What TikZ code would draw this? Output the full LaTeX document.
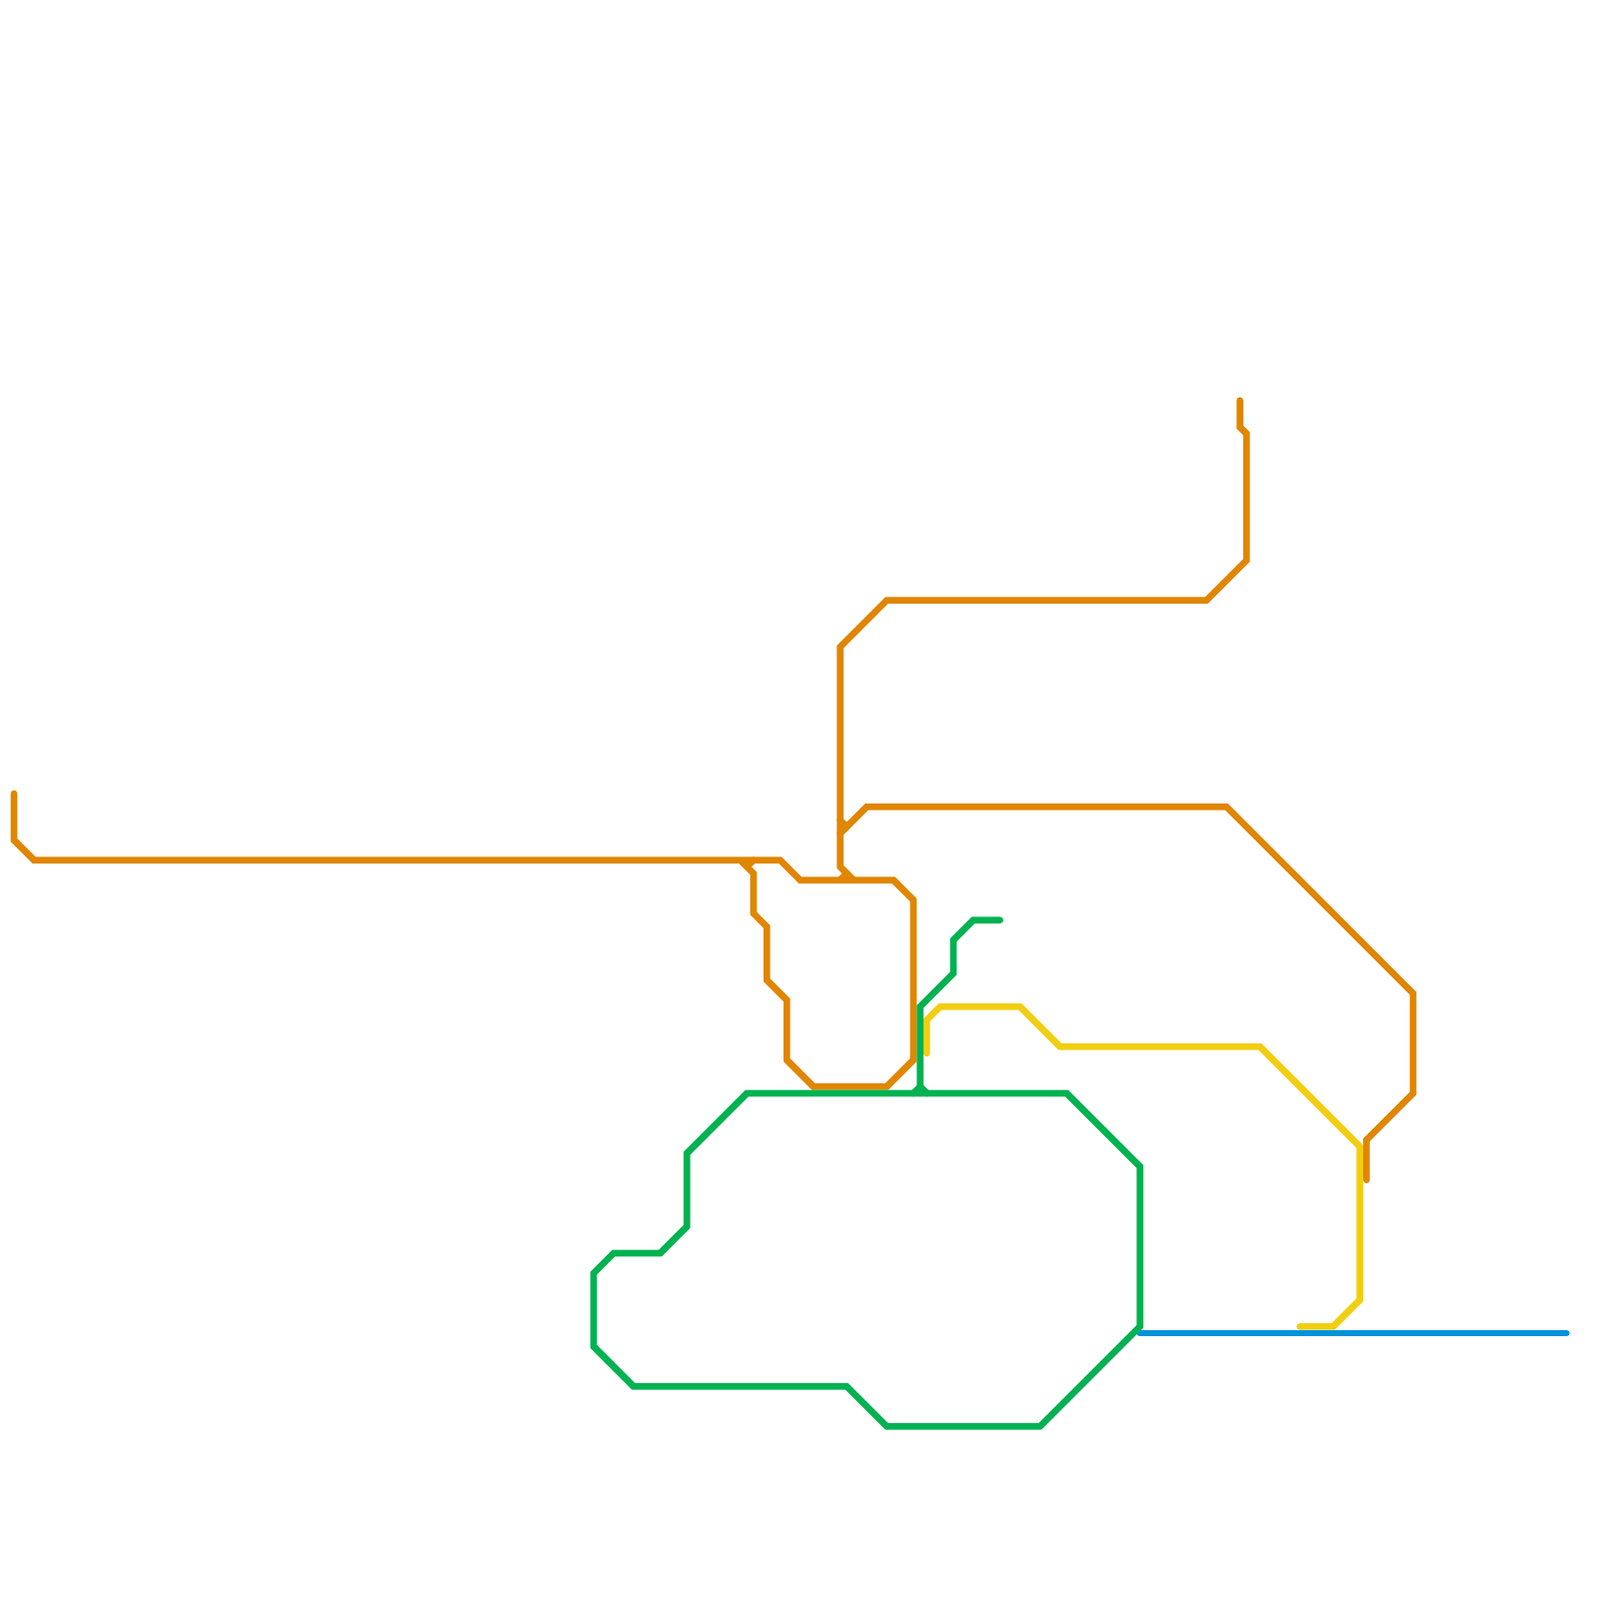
\documentclass[tikz,border=0pt]{standalone}
\usepackage{xcolor}
\definecolor{lorange}{HTML}{E08600}
\definecolor{lgreen}{HTML}{00B251}
\definecolor{lyellow}{HTML}{F2CE12}
\definecolor{lblue}{HTML}{0093D9}
\begin{document}
\begin{tikzpicture}[x=1mm, y=-1mm,
          metro/.style={line width=1mm, line cap=round, line join=miter, miter limit=10},
          orangeline/.style={metro, draw=lorange},
          greenline/.style={metro, draw=lgreen},
          yellowline/.style={metro, draw=lyellow},
          blueline/.style={metro, draw=lblue}]
        \useasboundingbox (-0.1,-0.1) rectangle (239.9,239.9);
        % yellow
        \draw[yellowline] (139,158) -- (139,153) -- (141,151) -- (153,151) -- (159,157) -- (189,157)
          -- (204,172) -- (204,195) -- (200,199) -- (195,199);
        % orange
        \draw[orangeline] (2,119) -- (2,126) -- (5,129) -- (117,129) -- (120,132) -- (134,132) -- (137,135)
          -- (137,159) -- (133,163) -- (122,163) -- (118,159) -- (118,150) -- (115,147) -- (115,139)
          -- (113,137) -- (113,131) -- (111,129);
        \draw[orangeline] (113,129) -- (112,130);
        \draw[orangeline] (186,60) -- (186,64) -- (187,65) -- (187,84) -- (181,90) -- (133,90) -- (126,97)
          -- (126,130) -- (128,132);
        \draw[orangeline] (126,132) -- (127,131);
        \draw[orangeline] (126,125) -- (130,121) -- (184,121) -- (212,149) -- (212,164) -- (205,171) -- (205,177);
        \draw[orangeline] (126,123) -- (127,124);
        % blue
        \draw[blueline] (171,200) -- (235,200);
        % green
        \draw[greenline] (150,138) -- (146,138) -- (143,141) -- (143,146) -- (138,151) -- (138,164);
        \draw[greenline] (137,164) -- (138,163) -- (139,164);
        \draw[greenline] (112,164) -- (103,173) -- (103,184) -- (99,188) -- (92,188) -- (89,191) -- (89,202)
          -- (95,208) -- (127,208) -- (133,214) -- (156,214) -- (171,199) -- (171,175) -- (160,164) -- cycle;
      \end{tikzpicture}
\end{document}
